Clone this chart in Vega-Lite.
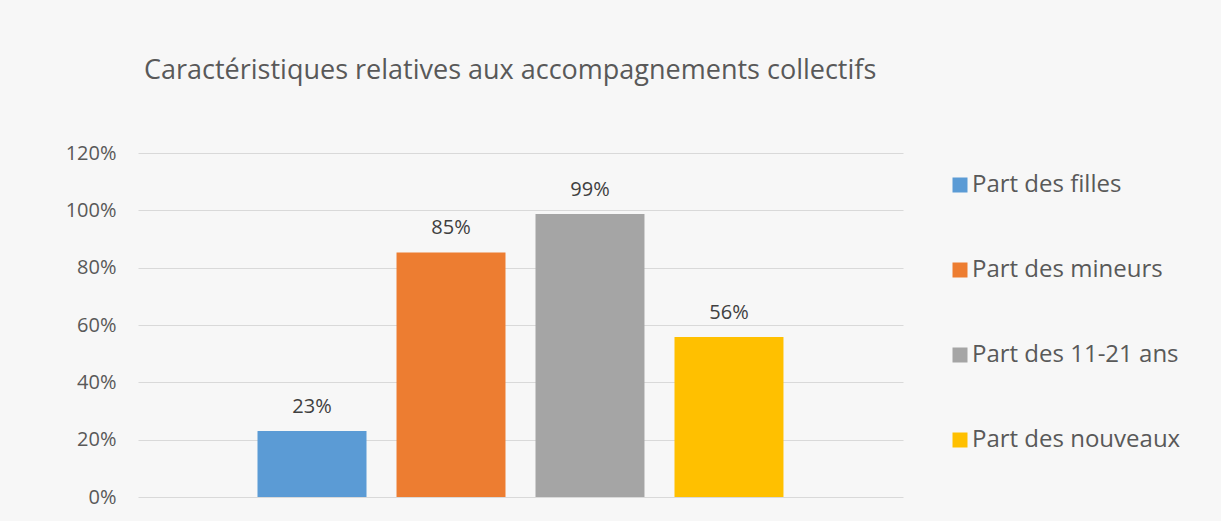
{
  "$schema": "https://vega.github.io/schema/vega-lite/v6.json",
  "autosize": "none",
  "width": 765,
  "height": 344,
  "padding": {"left": 138, "top": 153, "right": 318, "bottom": 24},
  "background": "#f7f7f7",
  "title": {
    "text": "Caractéristiques relatives aux accompagnements collectifs",
    "anchor": "start",
    "frame": "group",
    "font": "Open Sans",
    "fontSize": 27,
    "fontWeight": "normal",
    "color": "#595959",
    "dx": 6,
    "offset": 58
  },
  "data": {
    "values": [
      {"serie": "Part des filles", "valeur": 0.23},
      {"serie": "Part des mineurs", "valeur": 0.853},
      {"serie": "Part des 11-21 ans", "valeur": 0.987},
      {"serie": "Part des nouveaux", "valeur": 0.558}
    ]
  },
  "encoding": {
    "x": {
      "field": "serie",
      "type": "nominal",
      "sort": null,
      "axis": null,
      "scale": {"paddingInner": 0.216, "paddingOuter": 0.86}
    },
    "y": {
      "field": "valeur",
      "type": "quantitative",
      "scale": {"domain": [0, 1.2]},
      "axis": {
        "values": [0, 0.2, 0.4, 0.6, 0.8, 1.0, 1.2],
        "format": ".0%",
        "title": null,
        "domain": false,
        "ticks": false,
        "labelPadding": 22,
        "labelFont": "Open Sans",
        "labelFontSize": 20,
        "labelColor": "#595959",
        "gridColor": "#d9d9d9",
        "gridWidth": 1.2
      }
    }
  },
  "layer": [
    {
      "mark": {"type": "bar"},
      "encoding": {
        "color": {
          "field": "serie",
          "type": "nominal",
          "sort": null,
          "scale": {
            "domain": ["Part des filles", "Part des mineurs", "Part des 11-21 ans", "Part des nouveaux"],
            "range": ["#5B9BD5", "#ED7D31", "#A5A5A5", "#FFC000"]
          },
          "legend": {
            "title": null,
            "orient": "none",
            "legendX": 810,
            "legendY": 20,
            "symbolType": "square",
            "symbolSize": 225,
            "symbolStrokeWidth": 0,
            "symbolOpacity": 1,
            "labelFont": "Open Sans",
            "labelFontSize": 24,
            "labelColor": "#595959",
            "labelOffset": 0,
            "labelLimit": 400,
            "rowPadding": 61,
            "symbolOffset": 0
          }
        }
      }
    },
    {
      "mark": {"type": "text", "dy": -24, "font": "Open Sans", "fontSize": 20, "color": "#404040"},
      "encoding": {
        "text": {"field": "valeur", "type": "quantitative", "format": ".0%"}
      }
    }
  ],
  "config": {"view": {"stroke": null}}
}
